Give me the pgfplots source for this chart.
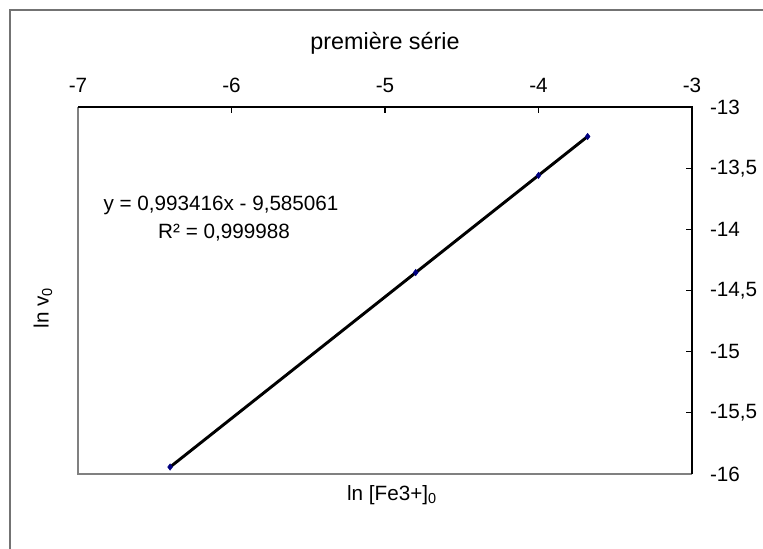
\documentclass[border=0pt]{standalone}
\usepackage{fontspec}
\setmainfont{Liberation Sans}
\usepackage{pgfplots}
\pgfplotsset{compat=1.18}
\definecolor{navy}{RGB}{0,0,128}
\begin{document}
\begin{tikzpicture}[x=0.75pt,y=-0.75pt]
\useasboundingbox (0,0) rectangle (763,549);
\draw[color=black!55, line width=1.1pt] (10,549) -- (10,10) -- (763,10);
\begin{axis}[
  at={(58.5pt,-355.5pt)}, anchor=south west,
  scale only axis, width=460.5pt, height=275.25pt,
  xmin=-7, xmax=-3, ymin=-16, ymax=-13,
  xtick={-7,-6,-5,-4,-3}, ytick={-16,-15.5,-15,-14.5,-14,-13.5,-13},
  xtick pos=right, ytick pos=right,
  xticklabel pos=right, yticklabel pos=right,
  tick align=inside, major tick length=4.5pt,
  tick style={black, line width=0.9pt},
  axis line style={draw=none},
  ticklabel style={font=\fontsize{15.5}{18}\selectfont},
  xticklabel style={yshift=7pt},
  yticklabel style={xshift=10pt},
  /pgf/number format/use comma,
  /pgf/number format/assume math mode=true,
  clip=false,
]
\draw[black!50, line width=1.1pt] (rel axis cs:0,1) -- (rel axis cs:0,0) -- (rel axis cs:1,0);
\draw[black, line width=1.1pt] (rel axis cs:0,1) -- (rel axis cs:1,1) -- (rel axis cs:1,0);
\addplot[black, line width=2.2pt] coordinates {(-6.4,-15.943) (-3.68,-13.241)};
\addplot[only marks, mark=diamond*, mark size=2.4pt, color=navy] coordinates {
(-6.4,-15.943) (-4.8,-14.353) (-4.0,-13.559) (-3.68,-13.241)};
\end{axis}
\node[font=\fontsize{17.5}{21}\selectfont] at (385,43) {première série};
\node[font=\fontsize{15.5}{18}\selectfont] at (221,205) {y = 0,993416x - 9,585061};
\node[font=\fontsize{15.5}{18}\selectfont] at (224,233) {R² = 0,999988};
\node[font=\fontsize{15.5}{18}\selectfont] at (392,495) {ln [Fe3+]\textsubscript{0}};
\node[font=\fontsize{15.5}{18}\selectfont, rotate=90] at (43,308) {ln v\textsubscript{0}};
\end{tikzpicture}
\end{document}
